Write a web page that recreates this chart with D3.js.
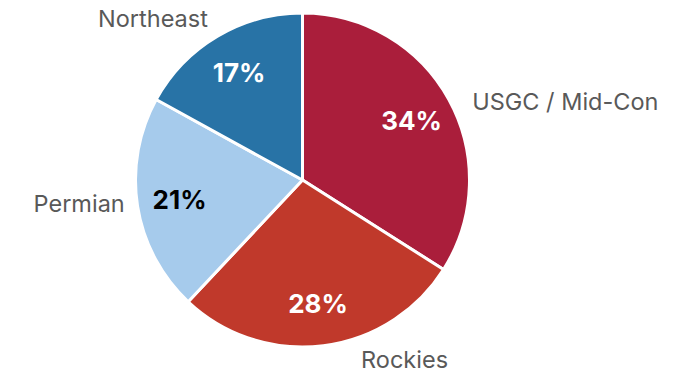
<!DOCTYPE html>
<html>
<head>
<meta charset="utf-8">
<script src="https://cdn.jsdelivr.net/npm/d3@7"></script>
<style>
  html, body { margin: 0; padding: 0; background: #fff; }
  svg { display: block; }
</style>
</head>
<body>
<svg id="chart" width="690" height="373"></svg>
<script>
// Regional share of the total, clockwise from 12 o'clock
const regions = ["USGC / Mid-Con", "Rockies", "Permian", "Northeast"];
const shares = [34, 28, 21, 17];
const sliceColors = ["#AA1E3B", "#C0392B", "#A6CBEC", "#2873A6"];
const pctTextColors = ["#ffffff", "#ffffff", "#000000", "#ffffff"];

const width = 690, height = 373;
const cx = 302.5, cy = 180, radius = 167;

// small placement tweaks for the category labels outside the pie
const labelNudge = {
  "USGC / Mid-Con": [12, 8],
  "Rockies": [36, 1],
  "Permian": [0, -5],
  "Northeast": [-3, -7]
};

const data = regions.map((name, i) => ({ name, value: shares[i], color: sliceColors[i], text: pctTextColors[i] }));

const svg = d3.select("#chart");
const g = svg.append("g").attr("transform", `translate(${cx},${cy})`);

const pie = d3.pie().value(d => d.value).sort(null);
const arcs = pie(data);

const arc = d3.arc().innerRadius(0).outerRadius(radius);
const pctArc = d3.arc().innerRadius(radius * 0.745).outerRadius(radius * 0.745);

g.selectAll("path.slice")
  .data(arcs)
  .join("path")
  .attr("class", "slice")
  .attr("d", arc)
  .attr("fill", d => d.data.color)
  .attr("stroke", "#fff")
  .attr("stroke-width", 3)
  .attr("stroke-linejoin", "round");

g.selectAll("text.pct")
  .data(arcs)
  .join("text")
  .attr("class", "pct")
  .attr("transform", d => `translate(${pctArc.centroid(d)})`)
  .attr("text-anchor", "middle")
  .attr("dominant-baseline", "central")
  .attr("font-family", "Inter, 'Open Sans', sans-serif")
  .attr("font-weight", 700)
  .attr("font-size", 26)
  .attr("fill", d => d.data.text)
  .text(d => d.data.value + "%");

const labelR = radius + 13;
g.selectAll("text.cat")
  .data(arcs)
  .join("text")
  .attr("class", "cat")
  .each(function (d) {
    const a = (d.startAngle + d.endAngle) / 2;
    const x = Math.sin(a) * labelR;
    const y = -Math.cos(a) * labelR;
    const [nx, ny] = labelNudge[d.data.name];
    d3.select(this)
      .attr("x", x + nx)
      .attr("y", y + ny)
      .attr("text-anchor", x >= 0 ? "start" : "end");
  })
  .attr("dominant-baseline", "central")
  .attr("font-family", "Inter, 'Open Sans', sans-serif")
  .attr("font-size", 23.5)
  .attr("fill", "#595959")
  .text(d => d.data.name);
</script>
</body>
</html>
